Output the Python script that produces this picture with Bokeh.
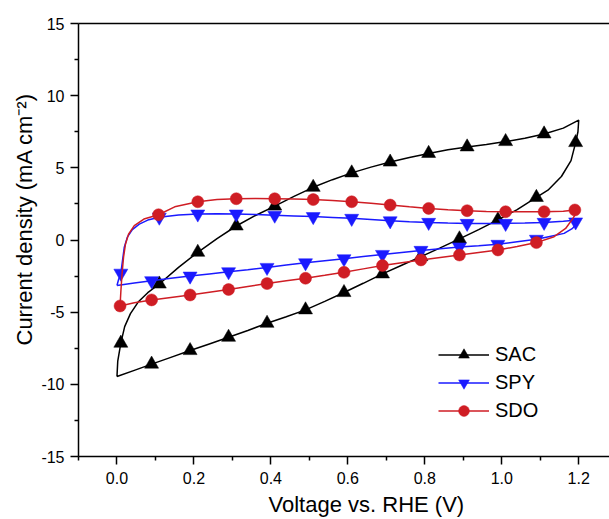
from bokeh.plotting import figure
from bokeh.models import (Range1d, FixedTicker, LinearAxis, Legend, LegendItem, Title)
from bokeh.embed import file_html
from bokeh.resources import INLINE

# ---------------- data ----------------
series_names = ["SAC", "SPY", "SDO"]

# SAC: full cyclic voltammogram path (voltage V, current density mA cm^-2)
sac_v = [0.000, 0.002, 0.010, 0.020, 0.035, 0.055, 0.080, 0.110, 0.160, 0.210,
         0.260, 0.310, 0.360, 0.410, 0.460, 0.510, 0.560, 0.610, 0.660, 0.710,
         0.760, 0.810, 0.860, 0.910, 0.960, 1.010, 1.060, 1.110, 1.160, 1.200,
         1.198, 1.192, 1.180, 1.155, 1.120, 1.090, 1.040, 0.990, 0.940, 0.890,
         0.840, 0.790, 0.740, 0.690, 0.640, 0.590, 0.540, 0.490, 0.440, 0.390,
         0.340, 0.290, 0.240, 0.190, 0.140, 0.090, 0.045, 0.000]
sac_i = [-9.46, -8.40, -7.15, -6.00, -5.10, -4.30, -3.65, -3.05, -1.90, -0.85,
         0.10, 0.97, 1.70, 2.35, 3.02, 3.65, 4.18, 4.65, 5.05, 5.40,
         5.72, 6.00, 6.25, 6.45, 6.62, 6.82, 7.05, 7.35, 7.75, 8.30,
         7.50, 6.75, 5.50, 4.40, 3.45, 2.95, 2.10, 1.40, 0.72, 0.08,
         -0.55, -1.15, -1.75, -2.35, -3.00, -3.64, -4.25, -4.84, -5.32, -5.77,
         -6.27, -6.74, -7.20, -7.66, -8.13, -8.60, -9.03, -9.46]
sac_mv = [0.010, 0.110, 0.210, 0.310, 0.410, 0.510, 0.610, 0.710, 0.810, 0.910,
          1.010, 1.110, 1.192, 1.090, 0.990, 0.890, 0.790, 0.690, 0.590, 0.490,
          0.390, 0.290, 0.190, 0.090]
sac_mi = [-7.15, -3.05, -0.85, 0.97, 2.35, 3.65, 4.65, 5.40, 6.00, 6.45,
          6.82, 7.35, 6.75, 2.95, 1.40, 0.08, -1.15, -2.35, -3.64, -4.84,
          -5.77, -6.74, -7.66, -8.60]

# SPY
spy_v = [0.000, 0.004, 0.010, 0.014, 0.019, 0.027, 0.040, 0.058, 0.080, 0.110,
         0.160, 0.210, 0.260, 0.310, 0.360, 0.410, 0.460, 0.510, 0.560, 0.610,
         0.660, 0.710, 0.760, 0.810, 0.860, 0.910, 0.960, 1.010, 1.060, 1.110,
         1.160, 1.190, 1.200, 1.195, 1.184, 1.162, 1.125, 1.090, 1.040, 0.990,
         0.940, 0.890, 0.840, 0.790, 0.740, 0.690, 0.640, 0.590, 0.540, 0.490,
         0.440, 0.390, 0.340, 0.290, 0.240, 0.190, 0.140, 0.090, 0.045, 0.000]
spy_i = [-3.15, -2.75, -2.30, -1.50, -0.50, 0.20, 0.72, 1.10, 1.38, 1.58,
         1.73, 1.80, 1.82, 1.80, 1.77, 1.72, 1.67, 1.62, 1.56, 1.50,
         1.42, 1.33, 1.27, 1.22, 1.18, 1.15, 1.14, 1.15, 1.17, 1.22,
         1.30, 1.36, 1.42, 1.12, 0.81, 0.46, 0.25, 0.05, -0.12, -0.30,
         -0.40, -0.48, -0.60, -0.72, -0.86, -1.00, -1.15, -1.30, -1.44, -1.58,
         -1.74, -1.90, -2.06, -2.20, -2.35, -2.50, -2.65, -2.82, -2.98, -3.15]
spy_mv = [0.010, 0.110, 0.210, 0.310, 0.410, 0.510, 0.610, 0.710, 0.810, 0.910,
          1.010, 1.110, 1.192, 1.090, 0.990, 0.890, 0.790, 0.690, 0.590, 0.490,
          0.390, 0.290, 0.190, 0.090]
spy_mi = [-2.30, 1.58, 1.80, 1.80, 1.72, 1.62, 1.50, 1.33, 1.22, 1.15,
          1.15, 1.22, 1.25, 0.05, -0.30, -0.48, -0.72, -1.00, -1.30, -1.58,
          -1.90, -2.20, -2.50, -2.82]

# SDO
sdo_v = [0.008, 0.010, 0.013, 0.017, 0.022, 0.030, 0.045, 0.070, 0.108, 0.150,
         0.210, 0.260, 0.310, 0.360, 0.410, 0.460, 0.510, 0.560, 0.610, 0.660,
         0.710, 0.760, 0.810, 0.860, 0.910, 0.960, 1.010, 1.060, 1.110, 1.160,
         1.190, 1.195, 1.185, 1.166, 1.136, 1.090, 1.040, 0.990, 0.940, 0.890,
         0.840, 0.790, 0.740, 0.690, 0.640, 0.590, 0.540, 0.490, 0.440, 0.390,
         0.340, 0.290, 0.240, 0.190, 0.140, 0.090, 0.045, 0.008]
sdo_i = [-4.57, -3.60, -2.40, -1.20, -0.30, 0.40, 1.00, 1.45, 1.75, 2.30,
         2.65, 2.80, 2.86, 2.88, 2.86, 2.84, 2.80, 2.74, 2.65, 2.54,
         2.42, 2.30, 2.19, 2.10, 2.03, 1.98, 1.96, 1.95, 1.96, 2.00,
         2.08, 1.95, 1.50, 0.80, 0.23, -0.18, -0.45, -0.69, -0.86, -1.04,
         -1.21, -1.38, -1.57, -1.77, -2.00, -2.24, -2.45, -2.65, -2.83, -3.02,
         -3.22, -3.43, -3.62, -3.81, -3.98, -4.15, -4.35, -4.57]
sdo_mv = [0.008, 0.108, 0.210, 0.310, 0.410, 0.510, 0.610, 0.710, 0.810, 0.910,
          1.010, 1.110, 1.190, 1.090, 0.990, 0.890, 0.790, 0.690, 0.590, 0.490,
          0.390, 0.290, 0.190, 0.090]
sdo_mi = [-4.57, 1.75, 2.65, 2.86, 2.86, 2.80, 2.65, 2.42, 2.19, 2.03,
          1.96, 1.96, 2.08, -0.18, -0.69, -1.04, -1.38, -1.77, -2.24, -2.65,
          -3.02, -3.43, -3.81, -4.15]

x_ticks = [0.0, 0.2, 0.4, 0.6, 0.8, 1.0, 1.2]
x_tick_labels = ["0.0", "0.2", "0.4", "0.6", "0.8", "1.0", "1.2"]
x_minor = [-0.1, 0.1, 0.3, 0.5, 0.7, 0.9, 1.1]
y_ticks = [-15, -10, -5, 0, 5, 10, 15]
y_tick_labels = ["-15", "-10", "-5", "0", "5", "10", "15"]
y_minor = [-12.5, -7.5, -2.5, 2.5, 7.5, 12.5]

x_title = "Voltage vs. RHE (V)"
y_title = "Current density (mA cm\u207b\u00b2)"

# ---------------- styling ----------------
FONT = "Liberation Sans"
colors = {"SAC": "#000000", "SPY": "#1a1aff", "SDO": "#cf1d24"}
markers = {"SAC": "triangle", "SPY": "inverted_triangle", "SDO": "circle"}
msize = {"SAC": 14, "SPY": 14, "SDO": 12}

p = figure(width=609, height=519, output_backend="svg", toolbar_location=None,
           x_range=Range1d(-0.1, 1.28), y_range=Range1d(-15, 15),
           x_axis_type=None, y_axis_type=None,
           min_border_left=78, min_border_right=0, min_border_top=23,
           min_border_bottom=62)
p.outline_line_color = None
p.xgrid.visible = False
p.ygrid.visible = False
p.background_fill_color = "white"
p.border_fill_color = "white"


def style_axis(ax):
    ax.axis_line_color = "black"
    ax.axis_line_width = 1.5
    ax.major_tick_line_color = "black"
    ax.major_tick_line_width = 1.5
    ax.minor_tick_line_color = "black"
    ax.minor_tick_line_width = 1.5
    ax.major_tick_in = 0
    ax.major_tick_out = 8
    ax.minor_tick_in = 0
    ax.minor_tick_out = 4
    ax.major_label_text_font = FONT
    ax.major_label_text_font_size = "16px"
    ax.major_label_text_color = "black"


xaxis = LinearAxis(ticker=FixedTicker(ticks=x_ticks, minor_ticks=x_minor),
                   major_label_overrides=dict(zip(x_ticks, x_tick_labels)))
style_axis(xaxis)
xaxis.major_label_standoff = 7
p.add_layout(xaxis, "below")

yaxis = LinearAxis(ticker=FixedTicker(ticks=y_ticks, minor_ticks=y_minor),
                   major_label_overrides=dict(zip(y_ticks, y_tick_labels)))
style_axis(yaxis)
yaxis.major_label_standoff = 6
p.add_layout(yaxis, "left")

top_axis = LinearAxis(ticker=FixedTicker(ticks=[], minor_ticks=[]))
top_axis.axis_line_color = "black"
top_axis.axis_line_width = 1.5
top_axis.major_tick_out = 0
top_axis.minor_tick_out = 0
p.add_layout(top_axis, "above")

# axis titles (as side titles so they can be offset like the reference)
p.add_layout(Title(text=x_title, align="left", offset=190, standoff=6,
                   text_font=FONT, text_font_size="22px", text_font_style="normal",
                   text_color="black"), "below")
p.add_layout(Title(text=y_title, align="left", offset=111, standoff=4,
                   text_font=FONT, text_font_size="22px", text_font_style="normal",
                   text_color="black"), "left")

data = {
    "SAC": (sac_v, sac_i, sac_mv, sac_mi),
    "SPY": (spy_v, spy_i, spy_mv, spy_mi),
    "SDO": (sdo_v, sdo_i, sdo_mv, sdo_mi),
}

items = []
for name in series_names:
    v, i, mv, mi = data[name]
    c = colors[name]
    lr = p.line(v, i, line_color=c, line_width=1.5)
    sr = p.scatter(mv, mi, marker=markers[name], size=msize[name],
                   fill_color=c, line_color=c, line_width=0.5)
    items.append(LegendItem(label=name, renderers=[lr, sr]))

legend = Legend(items=items, location=(360, 32), glyph_width=51, glyph_height=27,
                label_height=27, spacing=1, padding=0, margin=0,
                border_line_color=None, background_fill_alpha=0,
                label_text_font=FONT, label_text_font_size="20px",
                label_text_color="black", label_standoff=6)
p.add_layout(legend)

open("out.html", "w").write(file_html(p, INLINE))
